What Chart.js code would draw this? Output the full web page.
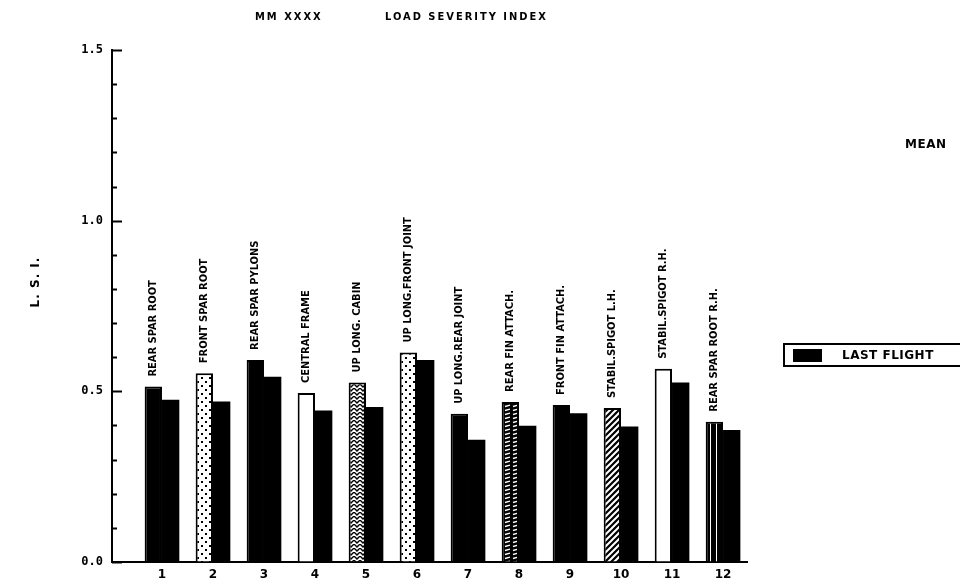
<!DOCTYPE html>
<html>
<head>
<meta charset="utf-8">
<script src="https://cdn.jsdelivr.net/npm/chart.js@4/dist/chart.umd.min.js"></script>
<style>
  html, body { margin: 0; padding: 0; background: #fff; }
  #wrap { width: 960px; height: 588px; position: relative; }
</style>
</head>
<body>
<div id="wrap"><canvas id="lsi"></canvas></div>
<script>
// Load severity index per structural item
const categories = [
  'REAR SPAR ROOT', 'FRONT SPAR ROOT', 'REAR SPAR PYLONS', 'CENTRAL FRAME',
  'UP LONG. CABIN', 'UP LONG.FRONT JOINT', 'UP LONG.REAR JOINT', 'REAR FIN ATTACH.',
  'FRONT FIN ATTACH.', 'STABIL.SPIGOT L.H.', 'STABIL.SPIGOT R.H.', 'REAR SPAR ROOT R.H.'
];
const positions = [1, 2, 3, 4, 5, 6, 7, 8, 9, 10, 11, 12];
const meanValues = [0.514, 0.553, 0.592, 0.495, 0.526, 0.614, 0.434, 0.469, 0.460, 0.451, 0.566, 0.411];
const lastFlightValues = [0.475, 0.470, 0.543, 0.444, 0.454, 0.592, 0.358, 0.399, 0.436, 0.397, 0.526, 0.387];
const yLabelled = [0, 0.5, 1.0, 1.5];

// fill style of each MEAN bar
const meanFills = ['solid', 'dots', 'solid', 'open', 'herring', 'dots', 'solid', 'dashes', 'solid', 'diag', 'open', 'vlines'];

const LABEL_FONT = 'bold 11px "DejaVu Sans Condensed", "DejaVu Sans", sans-serif';
const BIG_FONT = 'bold 12px "DejaVu Sans", sans-serif';

function makePattern(kind) {
  if (kind === 'solid') return '#000';
  if (kind === 'open') return '#fff';
  const c = document.createElement('canvas');
  const g = c.getContext('2d');
  if (kind === 'dots') {
    c.width = 8; c.height = 8;
    g.fillStyle = '#fff'; g.fillRect(0, 0, 8, 8);
    g.fillStyle = '#000';
    g.fillRect(1, 1, 2, 2); g.fillRect(5, 5, 2, 2);
  } else if (kind === 'herring') {
    c.width = 6; c.height = 4;
    g.fillStyle = '#fff'; g.fillRect(0, 0, 6, 4);
    g.strokeStyle = '#000'; g.lineWidth = 1.4;
    g.beginPath(); g.moveTo(0, 0); g.lineTo(3, 3); g.lineTo(6, 0); g.stroke();
  } else if (kind === 'dashes') {
    c.width = 8; c.height = 4;
    g.fillStyle = '#000'; g.fillRect(0, 0, 8, 4);
    g.strokeStyle = '#fff'; g.lineWidth = 1.3;
    g.beginPath(); g.moveTo(1, 2.5); g.lineTo(6, 1.2); g.stroke();
  } else if (kind === 'diag') {
    c.width = 6; c.height = 6;
    g.fillStyle = '#000'; g.fillRect(0, 0, 6, 6);
    g.strokeStyle = '#fff'; g.lineWidth = 2;
    g.beginPath();
    g.moveTo(-1, 7); g.lineTo(7, -1);
    g.moveTo(-4, 4); g.lineTo(4, -4);
    g.moveTo(2, 10); g.lineTo(10, 2);
    g.stroke();
  } else if (kind === 'vlines') {
    c.width = 6; c.height = 2;
    g.fillStyle = '#000'; g.fillRect(0, 0, 6, 2);
    g.fillStyle = '#fff'; g.fillRect(2, 0, 1, 2);
  }
  return g.createPattern(c, 'repeat');
}

// inward ticks, rotated labels, title, legend
const decorations = {
  id: 'decorations',
  afterDatasetsDraw(chart) {
    const ctx = chart.ctx;
    const meta = chart.getDatasetMeta(0);
    ctx.save();
    ctx.fillStyle = '#000';
    ctx.font = LABEL_FONT;
    ctx.textAlign = 'left';
    ctx.textBaseline = 'middle';
    meta.data.forEach((bar, i) => {
      ctx.save();
      ctx.translate(bar.x, bar.y - 10);
      ctx.rotate(-Math.PI / 2);
      ctx.fillText(categories[i], 0, 0);
      ctx.restore();
    });
    ctx.restore();
  },
  afterDraw(chart) {
    const ctx = chart.ctx;
    const y = chart.scales.y;
    const left = chart.chartArea.left;
    ctx.save();
    ctx.strokeStyle = '#000';
    ctx.lineWidth = 2;
    y.ticks.forEach(t => {
      const py = Math.round(y.getPixelForValue(t.value)) + 0.5;
      const major = Math.abs(t.value * 2 - Math.round(t.value * 2)) < 1e-6;
      ctx.beginPath();
      ctx.moveTo(left, py);
      ctx.lineTo(left + (major ? 10 : 5), py);
      ctx.stroke();
    });

    ctx.fillStyle = '#000';
    ctx.textBaseline = 'middle';
    ctx.font = LABEL_FONT;
    ctx.letterSpacing = '2px';
    ctx.textAlign = 'left';
    ctx.fillText('MM XXXX', 255, 17);
    ctx.fillText('LOAD SEVERITY INDEX', 385, 17);

    // axis title
    ctx.save();
    ctx.translate(36, 282);
    ctx.rotate(-Math.PI / 2);
    ctx.textAlign = 'center';
    ctx.font = BIG_FONT;
    ctx.letterSpacing = '1px';
    ctx.fillText('L. S. I.', 0, 0);
    ctx.restore();

    // legend
    ctx.font = BIG_FONT;
    ctx.letterSpacing = '0.5px';
    ctx.textAlign = 'left';
    ctx.fillText('MEAN', 905, 145);
    ctx.lineWidth = 2;
    ctx.strokeRect(784, 344, 180, 22);
    ctx.fillRect(793, 349, 29, 13);
    ctx.fillText('LAST FLIGHT', 842, 356);
    ctx.restore();
  }
};

new Chart(document.getElementById('lsi'), {
  type: 'bar',
  data: {
    datasets: [
      {
        label: 'MEAN',
        data: positions.map((p, i) => ({ x: p, y: meanValues[i] })),
        backgroundColor: meanFills.map(makePattern),
        borderColor: '#000',
        borderWidth: 2,
        categoryPercentage: 0.68,
        barPercentage: 1
      },
      {
        label: 'LAST FLIGHT',
        data: positions.map((p, i) => ({ x: p, y: lastFlightValues[i] })),
        backgroundColor: '#000',
        borderColor: '#000',
        borderWidth: 0,
        categoryPercentage: 0.68,
        barPercentage: 1
      }
    ]
  },
  options: {
    responsive: true,
    maintainAspectRatio: false,
    animation: false,
    layout: { padding: { top: 50, right: 213, bottom: 0, left: 0 } },
    plugins: { legend: { display: false }, tooltip: { enabled: false } },
    scales: {
      x: {
        type: 'linear',
        offset: false,
        min: 0.02,
        max: 12.47,
        afterBuildTicks: s => { s.ticks = positions.map(v => ({ value: v })); },
        afterFit: s => { s.height = 26; },
        grid: { offset: false, drawOnChartArea: false, drawTicks: false },
        border: { display: true, color: '#000', width: 2 },
        ticks: {
          color: '#000',
          padding: 6,
          maxRotation: 0,
          autoSkip: false,
          font: { family: '"DejaVu Sans", sans-serif', size: 12, weight: 'bold' },
          callback: v => String(v)
        }
      },
      y: {
        min: 0,
        max: 1.5,
        afterFit: s => { s.width = 112; },
        grid: { drawOnChartArea: false, drawTicks: false },
        border: { display: true, color: '#000', width: 2 },
        ticks: {
          stepSize: 0.1,
          color: '#000',
          padding: 9,
          autoSkip: false,
          font: { family: '"DejaVu Sans Mono", monospace', size: 12, weight: 'bold' },
          callback: v => yLabelled.some(l => Math.abs(l - v) < 1e-6) ? v.toFixed(1) : ''
        }
      }
    }
  },
  plugins: [decorations]
});
</script>
</body>
</html>
